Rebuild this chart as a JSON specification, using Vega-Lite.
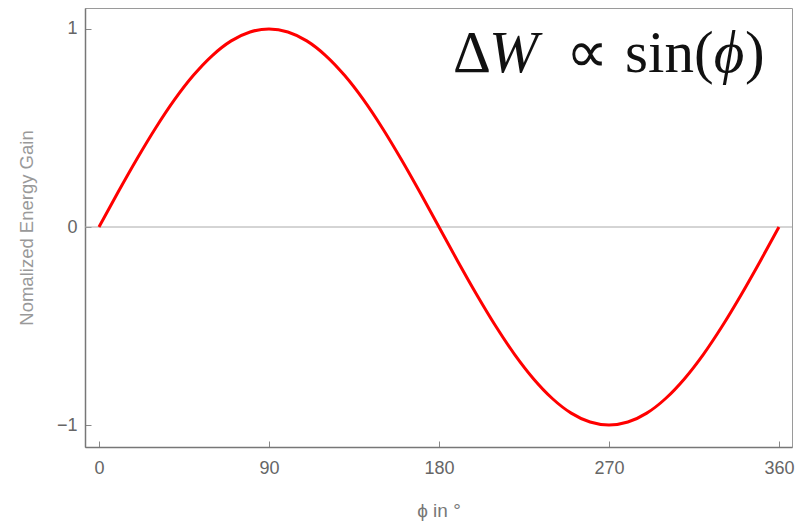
{
  "$schema": "https://vega.github.io/schema/vega-lite/v6.json",
  "width": 707,
  "height": 439,
  "autosize": "none",
  "padding": {"left": 85, "top": 8, "right": 8, "bottom": 76},
  "background": "white",
  "config": {
    "view": {"stroke": "#9a9a9a", "strokeWidth": 1},
    "axis": {
      "labelFont": "Liberation Sans",
      "titleFont": "Liberation Sans",
      "labelColor": "#666666",
      "titleColor": "#777777",
      "domainColor": "#777777",
      "domainWidth": 1.5,
      "tickColor": "#888888",
      "grid": false
    }
  },
  "datasets": {
    "zero": [{"gain": 0}],
    "curve": [
      {"phi": 0, "gain": 0},
      {"phi": 10, "gain": 0.174},
      {"phi": 20, "gain": 0.342},
      {"phi": 30, "gain": 0.5},
      {"phi": 40, "gain": 0.643},
      {"phi": 50, "gain": 0.766},
      {"phi": 60, "gain": 0.866},
      {"phi": 70, "gain": 0.94},
      {"phi": 80, "gain": 0.985},
      {"phi": 90, "gain": 1},
      {"phi": 100, "gain": 0.985},
      {"phi": 110, "gain": 0.94},
      {"phi": 120, "gain": 0.866},
      {"phi": 130, "gain": 0.766},
      {"phi": 140, "gain": 0.643},
      {"phi": 150, "gain": 0.5},
      {"phi": 160, "gain": 0.342},
      {"phi": 170, "gain": 0.174},
      {"phi": 180, "gain": 0},
      {"phi": 190, "gain": -0.174},
      {"phi": 200, "gain": -0.342},
      {"phi": 210, "gain": -0.5},
      {"phi": 220, "gain": -0.643},
      {"phi": 230, "gain": -0.766},
      {"phi": 240, "gain": -0.866},
      {"phi": 250, "gain": -0.94},
      {"phi": 260, "gain": -0.985},
      {"phi": 270, "gain": -1},
      {"phi": 280, "gain": -0.985},
      {"phi": 290, "gain": -0.94},
      {"phi": 300, "gain": -0.866},
      {"phi": 310, "gain": -0.766},
      {"phi": 320, "gain": -0.643},
      {"phi": 330, "gain": -0.5},
      {"phi": 340, "gain": -0.342},
      {"phi": 350, "gain": -0.174},
      {"phi": 360, "gain": 0}
    ],
    "upright": [
      {"phi": 187.4, "gain": 0.783, "text": "Δ"},
      {"phi": 247.5, "gain": 0.783, "text": "∝"},
      {"phi": 278.5, "gain": 0.783, "text": "sin("},
      {"phi": 342.0, "gain": 0.783, "text": ")"}
    ],
    "italic": [
      {"phi": 206.5, "gain": 0.783, "text": "W"},
      {"phi": 325.5, "gain": 0.783, "text": "ϕ"}
    ]
  },
  "layer": [
    {
      "data": {"name": "zero"},
      "mark": {"type": "rule", "color": "#aaaaaa", "strokeWidth": 1},
      "encoding": {
        "y": {"field": "gain", "type": "quantitative"}
      }
    },
    {
      "data": {"name": "curve"},
      "mark": {"type": "line", "color": "#ff0000", "strokeWidth": 3, "interpolate": "monotone"},
      "encoding": {
        "x": {
          "field": "phi",
          "type": "quantitative",
          "scale": {"domain": [-7.4, 366.9], "nice": false, "zero": false},
          "axis": {
            "values": [0, 90, 180, 270, 360],
            "title": "ϕ in °",
            "titleFontSize": 19,
            "titleFontWeight": "normal",
            "titlePadding": 24,
            "labelFontSize": 18,
            "tickSize": -6,
            "labelPadding": 18,
            "labelFlush": false
          }
        },
        "y": {
          "field": "gain",
          "type": "quantitative",
          "scale": {"domain": [-1.111, 1.106], "nice": false, "zero": false},
          "axis": {
            "values": [-1, 0, 1],
            "format": "d",
            "labelExpr": "datum.value < 0 ? '−' + abs(datum.value) : datum.label",
            "title": "Nomalized Energy Gain",
            "titleFontSize": 18.5,
            "titleFontWeight": "normal",
            "titleColor": "#999999",
            "titlePadding": 20,
            "labelFontSize": 18,
            "tickSize": -6,
            "labelPadding": 14,
            "labelFlush": false
          }
        }
      }
    },
    {
      "data": {"name": "upright"},
      "mark": {"type": "text", "font": "Liberation Serif", "fontSize": 59, "align": "left", "baseline": "alphabetic", "color": "#111111"},
      "encoding": {
        "x": {"field": "phi", "type": "quantitative"},
        "y": {"field": "gain", "type": "quantitative"},
        "text": {"field": "text"}
      }
    },
    {
      "data": {"name": "italic"},
      "mark": {"type": "text", "font": "Liberation Serif", "fontStyle": "italic", "fontSize": 59, "align": "left", "baseline": "alphabetic", "color": "#111111"},
      "encoding": {
        "x": {"field": "phi", "type": "quantitative"},
        "y": {"field": "gain", "type": "quantitative"},
        "text": {"field": "text"}
      }
    }
  ]
}
